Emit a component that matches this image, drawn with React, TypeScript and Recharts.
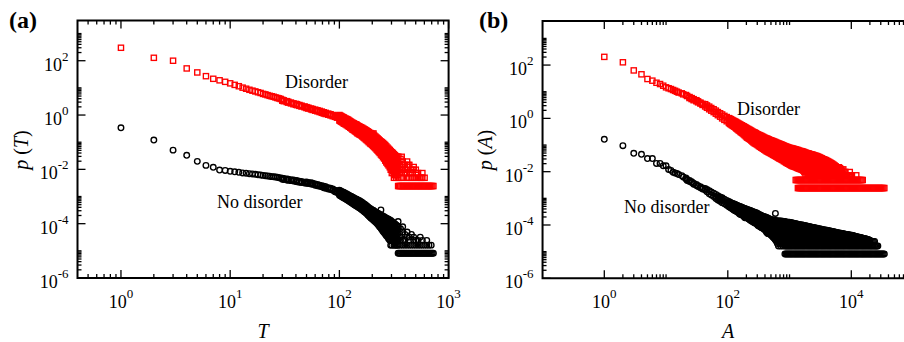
import React from "react";
import { ScatterChart, Scatter, XAxis, YAxis, ReferenceArea } from "recharts";

type Pt = { x: number; y: number };

// each row: [x, p1, p2, ...] (several p values where the cloud is thick)

// ---- panel (a): p(T) ----
const DISORDER_T: number[][] = [
  [1, 300], [2, 128], [3, 100], [4, 52], [5, 37], [6, 27], [7, 21.6], [8, 19], [9, 16.7], [10, 14.7],
  [11, 12.9], [12, 11.5], [13, 10.2], [14, 9.3], [15, 8.5], [16, 7.9], [17, 7.4], [18, 6.9], [19, 6.5], [20, 6.0],
  [21, 5.75], [22, 5.4], [23, 5.1], [24, 4.9], [25, 4.7], [26, 4.45], [27, 4.25], [28, 4.1], [29, 3.9],
  [30, 3.63, 3.38], [31, 3.47, 3.23], [33, 3.24, 3.01], [34, 3.09, 2.87], [36, 2.88, 2.68], [38, 2.69, 2.5],
  [40, 2.57, 2.39], [41, 2.48, 2.31], [43, 2.34, 2.18], [45, 2.21, 2.06], [48, 2.07, 1.93], [50, 1.95, 1.81],
  [52, 1.86, 1.73], [55, 1.74, 1.62], [57, 1.66, 1.54],
  [60, 1.58, 1.45], [63, 1.5, 1.37], [66, 1.42, 1.29], [69, 1.34, 1.21], [72, 1.26, 1.14], [75, 1.2, 1.09],
  [79, 1.13, 1.03], [83, 1.07, 0.97], [87, 1.0, 0.91], [91, 0.96, 0.86], [95, 0.9, 0.8],
  [100, 1.0, 0.79, 0.63], [104, 0.91, 0.72, 0.575], [109, 0.83, 0.65, 0.5], [114, 0.74, 0.575, 0.45],
  [120, 0.68, 0.51, 0.39], [126, 0.59, 0.45, 0.34], [132, 0.52, 0.39, 0.29], [138, 0.47, 0.35, 0.26],
  [144, 0.44, 0.35, 0.28, 0.23], [151, 0.39, 0.31, 0.25, 0.2], [158, 0.355, 0.28, 0.224, 0.178],
  [166, 0.316, 0.247, 0.194, 0.151], [174, 0.28, 0.217, 0.167, 0.129], [182, 0.25, 0.19, 0.145, 0.11],
  [191, 0.22, 0.163, 0.122, 0.091], [200, 0.2, 0.158, 0.126, 0.1, 0.079], [205, 0.21],
  [209, 0.174, 0.136, 0.107, 0.084, 0.066], [219, 0.148, 0.115, 0.089, 0.069, 0.054],
  [229, 0.126, 0.097, 0.074, 0.057, 0.044], [240, 0.107, 0.086, 0.069, 0.055, 0.044, 0.035],
  [251, 0.093, 0.073, 0.058, 0.045, 0.036, 0.028], [263, 0.078, 0.06, 0.046, 0.036, 0.028, 0.021],
  [276, 0.063, 0.05, 0.04, 0.0316, 0.025, 0.02, 0.0158], [289, 0.052, 0.041, 0.032, 0.025, 0.0196, 0.0154, 0.012],
  [302, 0.043, 0.034, 0.027, 0.0219, 0.017, 0.0146, 0.0122, 0.0097, 0.0073],
  [316, 0.036, 0.029, 0.0243, 0.0194, 0.0146, 0.0122, 0.0097, 0.0073, 0.0049],
  [331, 0.03, 0.0243, 0.0194, 0.0146, 0.0122, 0.0097, 0.0073, 0.0049],
  [347, 0.029, 0.0194, 0.0146, 0.0097, 0.0073, 0.0049],
  [363, 0.0243, 0.0122, 0.0073, 0.0049], [372, 0.029, 0.0097], [380, 0.0194, 0.0146, 0.0097, 0.0049],
  [398, 0.0146, 0.0097, 0.0073], [417, 0.0194, 0.0122, 0.0073, 0.0049], [427, 0.0146],
  [437, 0.0146, 0.0073, 0.0049], [457, 0.0097, 0.0073, 0.0049], [475, 0.0097], [479, 0.0122, 0.0049],
  [501, 0.0097, 0.0073, 0.0049], [525, 0.0073, 0.0049], [550, 0.0049], [565, 0.0049], [575, 0.0073, 0.0049],
  [603, 0.0049],
];
// in-between readings where the red cloud is solid
const DISORDER_T_DENSE: number[][] = [
  [102, 0.95, 0.84, 0.67, 0.6], [106, 0.87, 0.77, 0.61, 0.54], [111, 0.78, 0.69, 0.54, 0.48],
  [117, 0.71, 0.62, 0.48, 0.42], [123, 0.63, 0.55, 0.42, 0.37], [129, 0.55, 0.48, 0.37, 0.32],
  [135, 0.5, 0.43, 0.33, 0.28], [141, 0.455, 0.39, 0.31, 0.265, 0.245], [147, 0.41, 0.35, 0.28, 0.225, 0.21],
  [154, 0.37, 0.31, 0.25, 0.2, 0.19], [162, 0.335, 0.28, 0.22, 0.175, 0.164], [170, 0.298, 0.248, 0.19, 0.15, 0.14],
  [178, 0.265, 0.22, 0.168, 0.127, 0.119], [186, 0.235, 0.195, 0.15, 0.112, 0.1],
  [195, 0.21, 0.18, 0.14, 0.112, 0.089, 0.085], [204, 0.187, 0.157, 0.125, 0.1, 0.079, 0.072],
  [214, 0.161, 0.135, 0.105, 0.083, 0.066, 0.06], [224, 0.137, 0.114, 0.088, 0.068, 0.053, 0.049],
  [234, 0.116, 0.098, 0.079, 0.062, 0.049, 0.04], [245, 0.1, 0.083, 0.066, 0.052, 0.041, 0.032],
  [257, 0.085, 0.068, 0.054, 0.042, 0.033, 0.025], [269, 0.07, 0.056, 0.045, 0.036, 0.028, 0.022, 0.018],
  [282, 0.057, 0.046, 0.036, 0.028, 0.022, 0.0175, 0.014],
  [295, 0.047, 0.038, 0.03, 0.024, 0.019, 0.0158, 0.0122, 0.0097],
  [309, 0.04, 0.031, 0.0267, 0.0219, 0.017, 0.0134, 0.011, 0.0085],
  [323, 0.033, 0.027, 0.0219, 0.017, 0.0134, 0.011, 0.0085, 0.0061],
  [339, 0.029, 0.0219, 0.017, 0.0134, 0.011, 0.0085, 0.0061],
];

const NO_DISORDER_T: number[][] = [
  [1, 0.34], [2, 0.12], [3, 0.051], [4, 0.033], [5, 0.0197], [6, 0.014], [7, 0.0119], [8, 0.0094], [9, 0.0091], [10, 0.0085],
  [11, 0.0081], [12, 0.0078], [13, 0.0074], [14, 0.0072], [15, 0.0069], [16, 0.0068], [17, 0.0066], [18, 0.0063],
  [19, 0.0062], [20, 0.006], [21, 0.0058], [22, 0.0057], [23, 0.0056], [24, 0.0054], [25, 0.0053], [26, 0.0052],
  [27, 0.0051], [28, 0.00495], [29, 0.00485],
  [30, 0.00468, 0.0043], [31, 0.00457, 0.0042], [33, 0.00442, 0.00407], [34, 0.00432, 0.00397], [36, 0.00417, 0.00384],
  [38, 0.00403, 0.00371], [40, 0.00389, 0.00358], [41, 0.0038, 0.0035], [43, 0.00367, 0.00338], [45, 0.00355, 0.00327],
  [48, 0.00339, 0.00312],
  [50, 0.0034, 0.0031], [52, 0.0033, 0.003], [55, 0.0032, 0.0029], [57, 0.0031, 0.0028], [60, 0.0029, 0.0026],
  [63, 0.0028, 0.0025], [66, 0.0026, 0.0024], [69, 0.0025, 0.0023], [72, 0.0024, 0.0021], [75, 0.0023, 0.002],
  [79, 0.0021, 0.0019], [83, 0.002, 0.0018], [87, 0.0019, 0.0017], [91, 0.0017, 0.0015], [95, 0.0016, 0.0014],
  [100, 0.0017, 0.00138, 0.00112], [104, 0.00155, 0.00126, 0.00102], [109, 0.00145, 0.00115, 0.00091],
  [114, 0.00129, 0.00102, 0.00081], [120, 0.00117, 0.00091, 0.00071], [126, 0.00105, 0.00081, 0.00063],
  [132, 0.00095, 0.00072, 0.00055], [138, 0.00085, 0.00065, 0.00049],
  [144, 7.9e-4, 6.5e-4, 5.3e-4, 4.4e-4], [151, 7.1e-4, 5.8e-4, 4.8e-4, 3.9e-4], [158, 6.5e-4, 5.2e-4, 4.2e-4, 3.4e-4],
  [166, 5.5e-4, 4.4e-4, 3.6e-4, 2.9e-4], [174, 4.9e-4, 3.9e-4, 3.1e-4, 2.5e-4], [182, 4.2e-4, 3.3e-4, 2.6e-4, 2.1e-4],
  [191, 3.6e-4, 2.8e-4, 2.2e-4, 1.74e-4], [200, 3.2e-4, 2.7e-4, 2.2e-4, 1.8e-4, 1.48e-4],
  [209, 2.9e-4, 2.3e-4, 1.9e-4, 1.55e-4, 1.26e-4], [219, 2.6e-4, 2.1e-4, 1.66e-4, 1.32e-4, 1.05e-4],
  [229, 2.34e-4, 1.82e-4, 1.41e-4, 1.1e-4, 8.5e-5], [240, 3.2e-4, 2.1e-4, 1.7e-4, 1.35e-4, 1.07e-4, 8.5e-5, 6.8e-5],
  [251, 1.9e-4, 1.47e-4, 1.14e-4, 8.8e-5, 6.8e-5, 5.2e-5], [263, 1.7e-4, 1.34e-4, 1.05e-4, 8.3e-5, 6.6e-5, 5.2e-5, 4.1e-5],
  [276, 1.51e-4, 1.17e-4, 9e-5, 6.9e-5, 5.3e-5, 4.1e-5, 3.2e-5], [289, 1.38e-4, 1.05e-4, 8e-5, 6.1e-5, 4.6e-5, 3.2e-5, 2.43e-5],
  [302, 1.2e-4, 8.9e-5, 6.5e-5, 4.9e-5, 4e-5, 3.2e-5, 2.43e-5, 1.62e-5],
  [316, 1.05e-4, 7.3e-5, 5.7e-5, 4e-5, 3.2e-5, 2.43e-5, 1.62e-5],
  [331, 9e-5, 6.5e-5, 4.9e-5, 3.2e-5, 2.43e-5, 1.62e-5], [345, 1.2e-4],
  [347, 7.3e-5, 4.9e-5, 3.2e-5, 2.43e-5, 1.62e-5], [363, 6.5e-5, 3.2e-5, 2.43e-5, 1.62e-5],
  [380, 7.7e-5, 4.9e-5, 2.43e-5, 1.62e-5], [398, 4e-5, 2.43e-5, 1.62e-5], [417, 4.9e-5, 3.2e-5, 1.62e-5],
  [437, 3.2e-5, 2.43e-5, 1.62e-5], [457, 4e-5, 1.62e-5], [479, 3.2e-5, 2.43e-5, 1.62e-5], [501, 2.43e-5, 1.62e-5],
  [525, 2.43e-5, 1.62e-5], [550, 3.2e-5, 1.62e-5], [575, 2.43e-5, 1.62e-5], [603, 1.62e-5], [631, 2.43e-5, 1.62e-5],
  [661, 1.62e-5], [693, 1.62e-5],
];
const NO_DISORDER_T_DENSE: number[][] = [
  [102, 0.00162, 0.00145, 0.00118, 0.00106], [106, 0.0015, 0.00133, 0.00108, 0.00096],
  [111, 0.00137, 0.0012, 0.00096, 0.00086], [117, 0.00123, 0.00107, 0.00085, 0.00076],
  [123, 0.0011, 0.00096, 0.00076, 0.00067], [129, 0.001, 0.00086, 0.00067, 0.00059],
  [135, 9e-4, 7.7e-4, 6e-4, 5.2e-4], [141, 8.2e-4, 7e-4, 5.7e-4, 4.7e-4], [147, 7.5e-4, 6.2e-4, 5e-4, 4.2e-4],
  [154, 6.8e-4, 5.5e-4, 4.5e-4, 3.7e-4], [162, 6e-4, 4.8e-4, 3.9e-4, 3.2e-4], [170, 5.2e-4, 4.2e-4, 3.3e-4, 2.7e-4],
  [178, 4.5e-4, 3.6e-4, 2.8e-4, 2.3e-4], [186, 3.9e-4, 3.1e-4, 2.4e-4, 1.9e-4],
  [195, 3.4e-4, 2.9e-4, 2.3e-4, 1.9e-4, 1.6e-4], [204, 3.1e-4, 2.5e-4, 2e-4, 1.65e-4, 1.37e-4],
  [214, 2.7e-4, 2.2e-4, 1.78e-4, 1.43e-4, 1.15e-4], [224, 2.45e-4, 1.9e-4, 1.53e-4, 1.2e-4, 9.5e-5],
  [234, 2.2e-4, 1.75e-4, 1.4e-4, 1.12e-4, 9e-5, 7.6e-5], [245, 2e-4, 1.58e-4, 1.24e-4, 9.7e-5, 7.6e-5, 6e-5],
  [257, 1.8e-4, 1.4e-4, 1.1e-4, 8.5e-5, 6.7e-5, 5.9e-5, 4.6e-5],
  [269, 1.6e-4, 1.25e-4, 9.7e-5, 7.6e-5, 5.9e-5, 4.6e-5, 3.6e-5],
  [282, 1.45e-4, 1.1e-4, 8.5e-5, 6.5e-5, 5e-5, 3.7e-5, 2.8e-5],
  [295, 1.3e-4, 9.7e-5, 7.2e-5, 5.5e-5, 4.3e-5, 3.2e-5, 2.4e-5, 1.62e-5],
  [309, 1.1e-4, 8e-5, 6e-5, 4.5e-5, 3.6e-5, 2.8e-5, 2.43e-5],
  [323, 9.7e-5, 6.9e-5, 5.3e-5, 4e-5, 2.8e-5, 2.43e-5, 1.62e-5],
  [339, 8.2e-5, 5.7e-5, 4e-5, 2.8e-5, 2.43e-5, 1.62e-5],
];

// single-count level of both curves, and the T values it spans
const FLOOR_T = [345, 353, 361, 370, 378, 387, 396, 406, 415, 425, 435, 445, 456, 466, 477, 489, 500, 512, 524,
  536, 549, 562, 575, 589, 602, 617, 631, 646, 661, 677, 693, 709, 726];
const DISORDER_T_FLOOR = 0.00243;
const NO_DISORDER_T_FLOOR = 8.1e-6;

// ---- panel (b): p(A) ----
const DISORDER_A: number[][] = [
  [1, 203], [2, 127], [3, 63], [4, 45], [5, 30], [6, 26], [7, 21.7], [8, 19.4], [9, 16.8], [10, 14.6],
  [11, 13.5], [12, 12.6], [13, 11.6], [14, 10.8], [15, 10], [16, 9.3], [18, 8.7], [19, 8.0], [21, 7.5], [22, 6.9],
  [24, 6.3, 5.8], [26, 5.75, 5.3], [28, 5.25, 4.8], [31, 4.8, 4.4], [33, 4.35, 4.0], [36, 3.9, 3.6], [39, 3.5, 3.2],
  [43, 3.4, 2.8], [46, 3.05, 2.5], [50, 2.75, 2.2], [54, 2.45, 1.95], [59, 2.2, 1.72], [64, 1.95, 1.5],
  [69, 1.72, 1.32], [75, 1.55, 1.16], [81, 1.4, 1.0], [88, 1.24, 0.88], [96, 1.12, 0.78],
  [104, 1.02, 0.83, 0.68], [112, 0.93, 0.74, 0.59], [122, 0.83, 0.66, 0.52], [132, 0.76, 0.59, 0.46],
  [143, 0.68, 0.51, 0.39], [155, 0.61, 0.45, 0.34],
  [168, 0.55, 0.44, 0.35, 0.29], [182, 0.5, 0.39, 0.31, 0.25], [197, 0.45, 0.35, 0.27, 0.21],
  [214, 0.4, 0.31, 0.24, 0.18], [232, 0.36, 0.275, 0.21, 0.16], [251, 0.32, 0.24, 0.18, 0.135],
  [272, 0.295, 0.234, 0.186, 0.148, 0.117], [295, 0.263, 0.209, 0.166, 0.132, 0.105],
  [320, 0.24, 0.188, 0.148, 0.116, 0.091], [347, 0.221, 0.172, 0.133, 0.104, 0.08],
  [376, 0.2, 0.155, 0.12, 0.093, 0.072], [407, 0.182, 0.14, 0.107, 0.082, 0.063],
  [442, 0.17, 0.136, 0.109, 0.0875, 0.07, 0.056], [479, 0.155, 0.124, 0.1, 0.08, 0.064, 0.051],
  [519, 0.145, 0.115, 0.091, 0.072, 0.058, 0.046], [562, 0.135, 0.106, 0.084, 0.066, 0.052, 0.041],
  [610, 0.124, 0.0975, 0.076, 0.06, 0.047, 0.037],
  [661, 0.115, 0.093, 0.076, 0.062, 0.05, 0.041, 0.033], [716, 0.107, 0.086, 0.07, 0.056, 0.045, 0.037, 0.03],
  [776, 0.099, 0.079, 0.064, 0.051, 0.041, 0.033, 0.027], [841, 0.091, 0.073, 0.058, 0.047, 0.037, 0.03, 0.024],
  [912, 0.085, 0.068, 0.054, 0.043, 0.034, 0.027, 0.021], [989, 0.079, 0.063, 0.049, 0.039, 0.031, 0.024, 0.019],
  [1072, 0.076, 0.061, 0.05, 0.04, 0.033, 0.026, 0.021, 0.017],
  [1161, 0.072, 0.058, 0.047, 0.038, 0.03, 0.0245, 0.0197, 0.0158],
  [1259, 0.068, 0.054, 0.044, 0.035, 0.028, 0.023, 0.018, 0.0148, 0.00486],
  [1365, 0.065, 0.052, 0.041, 0.033, 0.026, 0.021, 0.017, 0.0135, 0.00486, 0.00243],
  [1479, 0.06, 0.048, 0.0385, 0.031, 0.0246, 0.0197, 0.0157, 0.0126, 0.00486, 0.00243],
  [1603, 0.058, 0.046, 0.037, 0.029, 0.0235, 0.0186, 0.0148, 0.0117, 0.00486, 0.00243],
  [1738, 0.054, 0.043, 0.034, 0.027, 0.022, 0.0175, 0.014, 0.0122, 0.0097, 0.00486, 0.00243],
  [1884, 0.05, 0.04, 0.032, 0.025, 0.02, 0.016, 0.0125, 0.0097, 0.00486, 0.00243],
  [2042, 0.048, 0.038, 0.03, 0.024, 0.019, 0.015, 0.012, 0.0097, 0.0073, 0.00486, 0.00243],
  [2213, 0.045, 0.036, 0.029, 0.023, 0.018, 0.0146, 0.0122, 0.0097, 0.0073, 0.00486, 0.00243],
  [2399, 0.043, 0.034, 0.027, 0.022, 0.017, 0.0146, 0.0122, 0.0097, 0.0073, 0.00486, 0.00243],
  [2600, 0.04, 0.032, 0.026, 0.021, 0.017, 0.0146, 0.0122, 0.0097, 0.0073, 0.00486, 0.00243],
  [2818, 0.038, 0.03, 0.024, 0.0195, 0.017, 0.0146, 0.0122, 0.0097, 0.0073, 0.00486, 0.00243],
  [3055, 0.035, 0.028, 0.0243, 0.0194, 0.017, 0.0146, 0.0122, 0.0097, 0.0073, 0.00486, 0.00243],
  [3311, 0.032, 0.026, 0.0219, 0.0194, 0.017, 0.0146, 0.0122, 0.0097, 0.0073, 0.00486, 0.00243],
  [3589, 0.029, 0.0243, 0.0194, 0.017, 0.0146, 0.0122, 0.0097, 0.0073, 0.00486, 0.00243],
  [3890, 0.027, 0.0219, 0.0194, 0.0146, 0.0122, 0.0097, 0.0073, 0.00486, 0.00243],
  [4217, 0.0243, 0.0194, 0.017, 0.0146, 0.0122, 0.0097, 0.0073, 0.00486, 0.00243],
  [4571, 0.0219, 0.017, 0.0146, 0.0122, 0.0097, 0.0073, 0.00486, 0.00243],
  [4955, 0.0194, 0.0146, 0.0122, 0.0097, 0.0073, 0.00486, 0.00243],
  [5370, 0.017, 0.0146, 0.0122, 0.0097, 0.0073, 0.00486, 0.00243],
  [5821, 0.0146, 0.0122, 0.0097, 0.0073, 0.00486, 0.00243],
  [6310, 0.0146, 0.0097, 0.0073, 0.00486, 0.00243], [6839, 0.0122, 0.0097, 0.0073, 0.00486, 0.00243],
  [7413, 0.0122, 0.0073, 0.00486, 0.00243], [8035, 0.0097, 0.0073, 0.00486, 0.00243],
  [8710, 0.0073, 0.00486, 0.00243], [9441, 0.0097, 0.0073, 0.00486, 0.00243], [10233, 0.0073, 0.00486, 0.00243],
  [11092, 0.00486, 0.00243], [12023, 0.0073, 0.00486, 0.00243], [13032, 0.00486, 0.00243],
  [14125, 0.00486, 0.00243], [15311, 0.00486, 0.00243],
  [16596, 0.00243], [17989, 0.00243], [19498, 0.00243], [21135, 0.00243], [22909, 0.00243], [24831, 0.00243],
  [26915, 0.00243], [29174, 0.00243], [31623, 0.00243], [34277, 0.00243],
];
const DISORDER_A_DENSE: number[][] = [
  [108, 0.97, 0.87, 0.7, 0.63], [117, 0.88, 0.78, 0.62, 0.55], [127, 0.79, 0.7, 0.55, 0.49],
  [137, 0.72, 0.62, 0.48, 0.42], [149, 0.64, 0.55, 0.43, 0.36], [161, 0.58, 0.5, 0.39, 0.31],
  [175, 0.52, 0.45, 0.36, 0.3, 0.27], [189, 0.47, 0.4, 0.32, 0.26, 0.23], [205, 0.42, 0.36, 0.28, 0.22, 0.19],
  [223, 0.38, 0.32, 0.25, 0.19, 0.17], [241, 0.34, 0.28, 0.22, 0.17, 0.147], [261, 0.305, 0.26, 0.2, 0.16, 0.125],
  [283, 0.28, 0.235, 0.185, 0.148, 0.111], [307, 0.25, 0.21, 0.166, 0.131, 0.098],
  [333, 0.23, 0.19, 0.15, 0.117, 0.086], [361, 0.21, 0.172, 0.136, 0.105, 0.076],
  [391, 0.19, 0.156, 0.121, 0.094, 0.067], [424, 0.176, 0.148, 0.117, 0.092, 0.073, 0.059],
  [460, 0.162, 0.137, 0.11, 0.087, 0.069, 0.053], [499, 0.15, 0.126, 0.1, 0.08, 0.063, 0.048],
  [540, 0.14, 0.116, 0.092, 0.073, 0.058, 0.043], [586, 0.13, 0.107, 0.084, 0.066, 0.052, 0.039],
  [635, 0.119, 0.1, 0.082, 0.066, 0.053, 0.044, 0.035], [688, 0.111, 0.094, 0.077, 0.062, 0.05, 0.041, 0.031],
  [746, 0.103, 0.087, 0.071, 0.057, 0.046, 0.036, 0.028], [808, 0.095, 0.08, 0.065, 0.052, 0.042, 0.033, 0.025],
  [876, 0.088, 0.074, 0.06, 0.048, 0.038, 0.03, 0.022], [950, 0.082, 0.069, 0.055, 0.044, 0.035, 0.027, 0.02],
  [1030, 0.077, 0.066, 0.053, 0.043, 0.034, 0.027, 0.022, 0.018],
  [1116, 0.074, 0.063, 0.051, 0.041, 0.033, 0.027, 0.022, 0.0175, 0.0163],
  [1210, 0.07, 0.06, 0.049, 0.039, 0.032, 0.026, 0.0215, 0.0165, 0.0153],
  [1311, 0.066, 0.057, 0.046, 0.037, 0.03, 0.024, 0.019, 0.0155, 0.0141, 0.00486],
  [1421, 0.062, 0.053, 0.043, 0.035, 0.028, 0.022, 0.0177, 0.0145, 0.013, 0.00486, 0.00243],
  [1540, 0.059, 0.05, 0.041, 0.033, 0.026, 0.021, 0.0166, 0.0134, 0.0122, 0.00486, 0.00243],
  [1669, 0.056, 0.047, 0.038, 0.031, 0.025, 0.0207, 0.0158, 0.0134, 0.011, 0.00486, 0.00243],
  [1809, 0.052, 0.044, 0.036, 0.029, 0.0233, 0.0182, 0.0146, 0.011, 0.0085, 0.00486, 0.00243],
  [1961, 0.049, 0.042, 0.034, 0.027, 0.0219, 0.017, 0.0134, 0.011, 0.0085, 0.00486, 0.00243],
  [2126, 0.046, 0.04, 0.032, 0.026, 0.0207, 0.0158, 0.0134, 0.011, 0.0085, 0.00486, 0.00243],
  [2304, 0.044, 0.037, 0.03, 0.0245, 0.0195, 0.0158, 0.0134, 0.011, 0.0085, 0.00486, 0.00243],
  [2498, 0.041, 0.035, 0.028, 0.0231, 0.0182, 0.0158, 0.0134, 0.011, 0.0085, 0.00486, 0.00243],
  [2707, 0.039, 0.033, 0.027, 0.0219, 0.0182, 0.0158, 0.0134, 0.011, 0.0085, 0.00486, 0.00243],
  [2934, 0.036, 0.031, 0.0255, 0.0207, 0.0182, 0.0158, 0.0134, 0.011, 0.0085, 0.00486, 0.00243],
  [3180, 0.033, 0.029, 0.0243, 0.0207, 0.0182, 0.0158, 0.0134, 0.011, 0.0085, 0.00486, 0.00243],
  [3447, 0.03, 0.0267, 0.0219, 0.0182, 0.0158, 0.0134, 0.011, 0.0085, 0.00486, 0.00243],
  [3736, 0.028, 0.0231, 0.0207, 0.0158, 0.0134, 0.011, 0.0085, 0.00486, 0.00243],
  [4050, 0.0255, 0.0219, 0.0182, 0.0158, 0.0134, 0.011, 0.0085, 0.00486, 0.00243],
  [4390, 0.023, 0.0195, 0.0158, 0.0134, 0.011, 0.0085, 0.00486, 0.00243],
  [4759, 0.0207, 0.0158, 0.0134, 0.011, 0.0085, 0.00486, 0.00243],
  [5158, 0.0182, 0.0158, 0.0134, 0.011, 0.0085, 0.00486, 0.00243],
  [5591, 0.0158, 0.0134, 0.011, 0.0085, 0.00486, 0.00243], [6061, 0.0146, 0.011, 0.0085, 0.00486, 0.00243],
  [6569, 0.0134, 0.011, 0.0085, 0.00486, 0.00243], [7120, 0.011, 0.0085, 0.00486, 0.00243],
  [7718, 0.0097, 0.0073, 0.00486, 0.00243], [8365, 0.0073, 0.00486, 0.00243], [9067, 0.0073, 0.00486, 0.00243],
  [9828, 0.0073, 0.00486, 0.00243], [10653, 0.00486, 0.00243], [11547, 0.00486, 0.00243],
  [12516, 0.00486, 0.00243], [13567, 0.00486, 0.00243], [14705, 0.00486, 0.00243], [15940, 0.00243],
  [17278, 0.00243], [18728, 0.00243], [20300, 0.00243], [22003, 0.00243], [23850, 0.00243], [25851, 0.00243],
  [28021, 0.00243], [30373, 0.00243], [32922, 0.00243],
];

const NO_DISORDER_A: number[][] = [
  [1, 0.164], [2, 0.094], [3, 0.049], [4, 0.045], [5, 0.031], [6, 0.031], [7, 0.0204], [8, 0.0204], [9, 0.0166],
  [10, 0.0166], [11, 0.012], [12, 0.0112], [13, 0.0095], [14, 0.009],
  [15, 0.0085], [16, 0.0078], [18, 0.0071], [19, 0.0063], [21, 0.0058, 0.0053], [22, 0.0051, 0.0047],
  [24, 0.0047, 0.0043], [26, 0.0042, 0.0039], [28, 0.0037, 0.0034], [31, 0.0033, 0.003], [33, 0.003, 0.00276],
  [36, 0.0027, 0.00248], [39, 0.00245, 0.00225],
  [43, 0.00234, 0.00204], [46, 0.00214, 0.00178], [50, 0.00195, 0.00148], [54, 0.00174, 0.00132], [59, 0.00155, 0.00117],
  [64, 0.00141, 0.00117, 0.00098], [69, 0.00126, 0.00105, 0.00087], [75, 0.00112, 0.00093, 0.00078],
  [81, 0.00105, 0.00085, 0.00069], [88, 0.00093, 0.00076, 0.00062], [96, 0.00083, 0.00068, 0.00055],
  [104, 0.00076, 0.0006, 0.00048], [112, 0.00069, 0.00055, 0.00044], [122, 0.00063, 0.00049, 0.00038],
  [132, 5.9e-4, 4.9e-4, 4.1e-4, 3.4e-4], [143, 5.4e-4, 4.5e-4, 3.7e-4, 3.1e-4], [155, 5e-4, 4e-4, 3.3e-4, 2.6e-4],
  [168, 4.6e-4, 3.7e-4, 3e-4, 2.4e-4], [182, 4.3e-4, 3.4e-4, 2.7e-4, 2.1e-4], [197, 4e-4, 3.2e-4, 2.5e-4, 2e-4],
  [214, 3.7e-4, 3.1e-4, 2.5e-4, 2.1e-4, 1.7e-4], [232, 3.5e-4, 2.8e-4, 2.3e-4, 1.9e-4, 1.5e-4],
  [251, 3.2e-4, 2.6e-4, 2.1e-4, 1.7e-4, 1.35e-4], [272, 3e-4, 2.4e-4, 1.9e-4, 1.5e-4, 1.2e-4],
  [295, 2.8e-4, 2.2e-4, 1.74e-4, 1.38e-4, 1.1e-4],
  [320, 2.5e-4, 2.05e-4, 1.67e-4, 1.37e-4, 1.12e-4, 9.1e-5], [347, 2.3e-4, 1.86e-4, 1.51e-4, 1.23e-4, 1e-4, 8.1e-5],
  [376, 2.1e-4, 1.7e-4, 1.38e-4, 1.12e-4, 9.1e-5, 7.4e-5], [407, 2e-4, 1.58e-4, 1.26e-4, 1e-4, 7.9e-5, 6.3e-5],
  [442, 1.82e-4, 1.45e-4, 1.15e-4, 9.1e-5, 7.2e-5, 5.8e-5, 4.8e-5],
  [479, 1.66e-4, 1.34e-4, 1.08e-4, 8.7e-5, 7e-5, 5.7e-5, 4.6e-5],
  [519, 1.55e-4, 1.23e-4, 9.8e-5, 7.8e-5, 6.2e-5, 4.9e-5, 3.9e-5],
  [562, 1.51e-4, 1.17e-4, 9e-5, 6.9e-5, 5.3e-5, 4.1e-5, 3.2e-5], [590, 2.7e-4],
  [610, 1.45e-4, 1.12e-4, 8.7e-5, 6.8e-5, 5.2e-5, 4.1e-5, 3.2e-5, 2.43e-5],
  [661, 1.41e-4, 1.1e-4, 8.7e-5, 6.9e-5, 5.5e-5, 4.3e-5, 3.4e-5, 2.43e-5, 1.62e-5],
  [716, 1.4e-4, 1.1e-4, 8.7e-5, 6.9e-5, 5.5e-5, 4.3e-5, 3.4e-5, 2.43e-5, 1.62e-5],
  [776, 1.38e-4, 1.1e-4, 8.7e-5, 6.9e-5, 5.5e-5, 4.3e-5, 3.4e-5, 2.43e-5, 1.62e-5],
  [841, 1.35e-4, 1.1e-4, 8.7e-5, 6.9e-5, 5.5e-5, 4.3e-5, 3.4e-5, 2.43e-5, 1.62e-5, 8.1e-6],
  [912, 1.26e-4, 1e-4, 7.9e-5, 6.3e-5, 5e-5, 4e-5, 3.2e-5, 2.43e-5, 1.62e-5, 8.1e-6],
  [989, 1.26e-4, 1e-4, 7.9e-5, 6.3e-5, 5e-5, 4e-5, 3.2e-5, 2.43e-5, 1.62e-5, 8.1e-6],
  [1072, 1.22e-4, 1e-4, 7.9e-5, 6.3e-5, 5e-5, 4e-5, 3.2e-5, 2.43e-5, 1.62e-5, 8.1e-6],
  [1161, 1.17e-4, 1e-4, 7.9e-5, 6.3e-5, 5e-5, 4e-5, 3.2e-5, 2.43e-5, 1.62e-5, 8.1e-6],
  [1259, 1.12e-4, 9e-5, 7.9e-5, 6.3e-5, 5e-5, 4e-5, 3.2e-5, 2.43e-5, 1.62e-5, 8.1e-6],
  [1365, 1.07e-4, 8.8e-5, 7.2e-5, 6.3e-5, 5e-5, 4e-5, 3.2e-5, 2.43e-5, 1.62e-5, 8.1e-6],
  [1479, 1.03e-4, 8.5e-5, 7.2e-5, 5.8e-5, 5e-5, 4e-5, 3.2e-5, 2.43e-5, 1.62e-5, 8.1e-6],
  [1603, 1e-4, 7.9e-5, 6.3e-5, 5e-5, 4e-5, 3.2e-5, 2.43e-5, 1.62e-5, 8.1e-6],
  [1738, 9.5e-5, 7.9e-5, 6.3e-5, 5e-5, 4e-5, 3.2e-5, 2.43e-5, 1.62e-5, 8.1e-6],
  [1884, 9.1e-5, 7.9e-5, 6.3e-5, 5e-5, 4e-5, 3.2e-5, 2.43e-5, 1.62e-5, 8.1e-6],
  [2042, 8.8e-5, 7.3e-5, 6.3e-5, 5e-5, 4e-5, 3.2e-5, 2.43e-5, 1.62e-5, 8.1e-6],
  [2213, 8.5e-5, 7e-5, 5.7e-5, 4.9e-5, 4e-5, 3.2e-5, 2.43e-5, 1.62e-5, 8.1e-6],
  [2399, 8.1e-5, 6.5e-5, 5.7e-5, 4.9e-5, 4e-5, 3.2e-5, 2.43e-5, 1.62e-5, 8.1e-6],
  [2600, 7.8e-5, 6.3e-5, 5e-5, 4e-5, 3.2e-5, 2.43e-5, 1.62e-5, 8.1e-6],
  [2818, 7.5e-5, 6.3e-5, 5e-5, 4e-5, 3.2e-5, 2.43e-5, 1.62e-5, 8.1e-6],
  [3055, 7.2e-5, 6.3e-5, 5e-5, 4e-5, 3.2e-5, 2.43e-5, 1.62e-5, 8.1e-6],
  [3311, 6.9e-5, 5.7e-5, 4.9e-5, 4e-5, 3.2e-5, 2.43e-5, 1.62e-5, 8.1e-6],
  [3589, 6.6e-5, 5.2e-5, 4.4e-5, 3.6e-5, 2.9e-5, 2.43e-5, 1.62e-5, 8.1e-6],
  [3890, 6.4e-5, 5e-5, 4e-5, 3.2e-5, 2.43e-5, 1.62e-5, 8.1e-6],
  [4217, 6.2e-5, 5e-5, 4e-5, 3.2e-5, 2.43e-5, 1.62e-5, 8.1e-6],
  [4571, 5.9e-5, 4.9e-5, 4e-5, 3.2e-5, 2.43e-5, 1.62e-5, 8.1e-6],
  [4955, 5.7e-5, 4.9e-5, 4e-5, 3.2e-5, 2.43e-5, 1.62e-5, 8.1e-6],
  [5370, 5.5e-5, 4.5e-5, 3.6e-5, 2.9e-5, 2.43e-5, 1.62e-5, 8.1e-6],
  [5821, 5.2e-5, 4e-5, 3.2e-5, 2.43e-5, 1.62e-5, 8.1e-6],
  [6310, 5e-5, 4e-5, 3.2e-5, 2.43e-5, 1.62e-5, 8.1e-6],
  [6839, 4.9e-5, 4e-5, 3.2e-5, 2.43e-5, 1.62e-5, 8.1e-6],
  [7413, 4.7e-5, 3.9e-5, 3.2e-5, 2.43e-5, 1.62e-5, 8.1e-6],
  [8035, 4.5e-5, 3.6e-5, 2.9e-5, 2.43e-5, 1.62e-5, 8.1e-6],
  [8710, 4.4e-5, 3.6e-5, 2.9e-5, 2.43e-5, 1.62e-5, 8.1e-6],
  [9441, 4.2e-5, 3.2e-5, 2.43e-5, 1.62e-5, 8.1e-6],
  [10233, 4.1e-5, 3.2e-5, 2.43e-5, 1.62e-5, 8.1e-6],
  [11092, 3.9e-5, 3.2e-5, 2.43e-5, 1.62e-5, 8.1e-6],
  [12023, 3.7e-5, 3.2e-5, 2.43e-5, 1.62e-5, 8.1e-6],
  [13032, 3.5e-5, 2.8e-5, 2.43e-5, 1.62e-5, 8.1e-6],
  [14125, 3.4e-5, 2.8e-5, 2.43e-5, 1.62e-5, 8.1e-6],
  [15311, 3.2e-5, 2.43e-5, 1.62e-5, 8.1e-6], [16596, 3.1e-5, 2.43e-5, 1.62e-5, 8.1e-6],
  [17989, 2.95e-5, 2.43e-5, 1.62e-5, 8.1e-6], [19498, 2.75e-5, 2.43e-5, 1.62e-5, 8.1e-6],
  [21135, 2.43e-5, 1.62e-5, 8.1e-6], [22909, 2.43e-5, 1.62e-5, 8.1e-6], [24831, 1.62e-5, 8.1e-6],
  [26915, 1.62e-5, 8.1e-6], [29174, 8.1e-6], [31623, 8.1e-6], [34277, 8.1e-6],
];
const NO_DISORDER_A_DENSE: number[][] = [
  [108, 7.2e-4, 6.4e-4, 5.1e-4, 4.6e-4], [117, 6.6e-4, 5.8e-4, 4.6e-4, 4.1e-4], [127, 6.1e-4, 5.3e-4, 4.4e-4, 3.6e-4],
  [137, 5.6e-4, 4.7e-4, 3.9e-4, 3.25e-4], [149, 5.2e-4, 4.3e-4, 3.5e-4, 2.85e-4], [161, 4.8e-4, 3.9e-4, 3.15e-4, 2.5e-4],
  [175, 4.45e-4, 3.55e-4, 2.85e-4, 2.25e-4], [189, 4.15e-4, 3.3e-4, 2.6e-4, 2.05e-4, 1.85e-4],
  [205, 3.85e-4, 3.1e-4, 2.5e-4, 2.05e-4, 1.85e-4], [223, 3.6e-4, 2.95e-4, 2.4e-4, 2e-4, 1.6e-4],
  [241, 3.35e-4, 2.7e-4, 2.2e-4, 1.8e-4, 1.42e-4], [261, 3.1e-4, 2.5e-4, 2e-4, 1.6e-4, 1.27e-4],
  [283, 2.9e-4, 2.3e-4, 1.82e-4, 1.44e-4, 1.15e-4], [307, 2.65e-4, 2.1e-4, 1.7e-4, 1.37e-4, 1.1e-4, 9.5e-5],
  [333, 2.4e-4, 1.95e-4, 1.59e-4, 1.3e-4, 1.06e-4, 8.6e-5], [361, 2.2e-4, 1.78e-4, 1.44e-4, 1.17e-4, 9.5e-5, 7.7e-5],
  [391, 2.05e-4, 1.64e-4, 1.32e-4, 1.06e-4, 8.5e-5, 6.8e-5],
  [424, 1.9e-4, 1.52e-4, 1.2e-4, 9.5e-5, 7.5e-5, 6e-5, 5.3e-5],
  [460, 1.74e-4, 1.39e-4, 1.11e-4, 8.9e-5, 7.1e-5, 5.7e-5, 4.7e-5],
  [499, 1.6e-4, 1.28e-4, 1.03e-4, 8.2e-5, 6.6e-5, 5.3e-5, 4.2e-5],
  [540, 1.53e-4, 1.2e-4, 9.4e-5, 7.3e-5, 5.7e-5, 4.5e-5, 3.5e-5],
  [586, 1.48e-4, 1.15e-4, 8.9e-5, 7.1e-5, 5.6e-5, 4.4e-5, 3.6e-5, 2.8e-5],
  [635, 1.43e-4, 1.1e-4, 8.9e-5, 7.1e-5, 5.6e-5, 4.4e-5, 3.6e-5, 2.8e-5, 2e-5],
  [688, 1.4e-4, 1.1e-4, 8.9e-5, 7.1e-5, 5.6e-5, 4.4e-5, 3.6e-5, 2.8e-5, 2e-5],
  [746, 1.39e-4, 1.1e-4, 8.9e-5, 7.1e-5, 5.6e-5, 4.4e-5, 3.6e-5, 2.8e-5, 2e-5],
  [808, 1.36e-4, 1.1e-4, 8.9e-5, 7.1e-5, 5.6e-5, 4.4e-5, 3.6e-5, 2.8e-5, 2e-5],
  [876, 1.3e-4, 1e-4, 7.9e-5, 6.1e-5, 4.8e-5, 3.8e-5, 2.9e-5, 2.1e-5, 1.62e-5, 8.1e-6],
  [950, 1.26e-4, 8.9e-5, 7.1e-5, 5.6e-5, 4.5e-5, 3.6e-5, 2.8e-5, 2.1e-5, 1.62e-5, 8.1e-6],
  [1030, 1.24e-4, 8.9e-5, 7.1e-5, 5.6e-5, 4.5e-5, 3.6e-5, 2.8e-5, 2.1e-5, 1.62e-5, 8.1e-6],
  [1116, 1.2e-4, 8.9e-5, 7.1e-5, 5.6e-5, 4.5e-5, 3.6e-5, 2.8e-5, 2.1e-5, 1.62e-5, 8.1e-6],
  [1210, 1.14e-4, 8.9e-5, 7.1e-5, 5.6e-5, 4.5e-5, 3.6e-5, 2.8e-5, 2.1e-5, 1.62e-5, 8.1e-6],
  [1311, 1.1e-4, 8.9e-5, 7.1e-5, 5.6e-5, 4.5e-5, 3.6e-5, 2.8e-5, 2.1e-5, 1.62e-5, 8.1e-6],
  [1421, 1.05e-4, 8.9e-5, 7.1e-5, 5.6e-5, 4.5e-5, 3.6e-5, 2.8e-5, 2.1e-5, 1.62e-5, 8.1e-6],
  [1540, 1.01e-4, 8.9e-5, 7.1e-5, 5.6e-5, 4.5e-5, 3.6e-5, 2.8e-5, 2.1e-5, 1.62e-5, 8.1e-6],
  [1669, 9.7e-5, 7.1e-5, 5.6e-5, 4.5e-5, 3.6e-5, 2.8e-5, 2.1e-5, 1.62e-5, 8.1e-6],
  [1809, 9.3e-5, 7.1e-5, 5.6e-5, 4.5e-5, 3.6e-5, 2.8e-5, 2.1e-5, 1.62e-5, 8.1e-6],
  [1961, 9e-5, 7.1e-5, 5.6e-5, 4.5e-5, 3.6e-5, 2.8e-5, 2.1e-5, 1.62e-5, 8.1e-6],
  [2126, 8.6e-5, 7.1e-5, 5.6e-5, 4.5e-5, 3.6e-5, 2.8e-5, 2.1e-5, 1.62e-5, 8.1e-6],
  [2304, 8.3e-5, 7.1e-5, 5.6e-5, 4.5e-5, 3.6e-5, 2.8e-5, 2.1e-5, 1.62e-5, 8.1e-6],
  [2498, 8e-5, 6.5e-5, 5.6e-5, 4.5e-5, 3.6e-5, 2.8e-5, 2.1e-5, 1.62e-5, 8.1e-6],
  [2707, 7.6e-5, 6.5e-5, 5.6e-5, 4.5e-5, 3.6e-5, 2.8e-5, 2.1e-5, 1.62e-5, 8.1e-6],
  [2934, 7.3e-5, 5.6e-5, 4.5e-5, 3.6e-5, 2.8e-5, 2.1e-5, 1.62e-5, 8.1e-6],
  [3180, 7e-5, 5.6e-5, 4.5e-5, 3.6e-5, 2.8e-5, 2.1e-5, 1.62e-5, 8.1e-6],
  [3447, 6.7e-5, 5.6e-5, 4.5e-5, 3.6e-5, 2.8e-5, 2.1e-5, 1.62e-5, 8.1e-6],
  [3736, 6.5e-5, 5.6e-5, 4.5e-5, 3.6e-5, 2.8e-5, 2.1e-5, 1.62e-5, 8.1e-6],
  [4050, 6.3e-5, 5.2e-5, 4.5e-5, 3.6e-5, 2.8e-5, 2.1e-5, 1.62e-5, 8.1e-6],
  [4390, 6e-5, 5.2e-5, 4.5e-5, 3.6e-5, 2.8e-5, 2.1e-5, 1.62e-5, 8.1e-6],
  [4759, 5.8e-5, 4.5e-5, 3.6e-5, 2.8e-5, 2.1e-5, 1.62e-5, 8.1e-6],
  [5158, 5.6e-5, 4.5e-5, 3.6e-5, 2.8e-5, 2.1e-5, 1.62e-5, 8.1e-6],
  [5591, 5.3e-5, 4.5e-5, 3.6e-5, 2.8e-5, 2.1e-5, 1.62e-5, 8.1e-6],
  [6061, 5.1e-5, 4.5e-5, 3.6e-5, 2.8e-5, 2.1e-5, 1.62e-5, 8.1e-6],
  [6569, 4.95e-5, 4.2e-5, 3.6e-5, 2.8e-5, 2.1e-5, 1.62e-5, 8.1e-6],
  [7120, 4.8e-5, 4.2e-5, 3.6e-5, 2.8e-5, 2.1e-5, 1.62e-5, 8.1e-6],
  [7718, 4.6e-5, 3.6e-5, 2.8e-5, 2.1e-5, 1.62e-5, 8.1e-6],
  [8365, 4.45e-5, 3.6e-5, 2.8e-5, 2.1e-5, 1.62e-5, 8.1e-6],
  [9067, 4.3e-5, 3.6e-5, 2.8e-5, 2.1e-5, 1.62e-5, 8.1e-6],
  [9828, 4.15e-5, 3.6e-5, 2.8e-5, 2.1e-5, 1.62e-5, 8.1e-6],
  [10653, 4e-5, 3.4e-5, 2.8e-5, 2.1e-5, 1.62e-5, 8.1e-6],
  [11547, 3.8e-5, 3.2e-5, 2.8e-5, 2.1e-5, 1.62e-5, 8.1e-6],
  [12516, 3.6e-5, 2.8e-5, 2.1e-5, 1.62e-5, 8.1e-6], [13567, 3.45e-5, 2.8e-5, 2.1e-5, 1.62e-5, 8.1e-6],
  [14705, 3.3e-5, 2.8e-5, 2.1e-5, 1.62e-5, 8.1e-6], [15940, 3.15e-5, 2.6e-5, 2.1e-5, 1.62e-5, 8.1e-6],
  [17278, 3e-5, 2.43e-5, 1.62e-5, 8.1e-6], [18728, 2.85e-5, 2.43e-5, 1.62e-5, 8.1e-6],
  [20300, 2.6e-5, 2.1e-5, 1.62e-5, 8.1e-6], [22003, 2.43e-5, 1.62e-5, 8.1e-6], [23850, 2.43e-5, 1.62e-5, 8.1e-6],
  [25851, 1.62e-5, 8.1e-6], [28021, 8.1e-6], [30373, 8.1e-6], [32922, 8.1e-6],
];

// ---- ticks ----
const T_MAJOR = [1, 10, 100, 1000];
const T_MINOR = [0.5, 0.6, 0.7, 0.8, 0.9, 2, 3, 4, 5, 6, 7, 8, 9, 20, 30, 40, 50, 60, 70, 80, 90,
  200, 300, 400, 500, 600, 700, 800, 900];
const A_MAJOR = [1, 100, 10000];
const A_MINOR = [2, 3, 4, 5, 6, 7, 8, 9, 10, 200, 300, 400, 500, 600, 700, 800, 900, 1000,
  20000, 30000, 40000, 50000, 60000, 70000, 80000, 90000];
const P_MAJOR = [1e-6, 1e-4, 1e-2, 1, 100];
const P_MINOR = [2e-6, 3e-6, 4e-6, 5e-6, 6e-6, 7e-6, 8e-6, 9e-6, 1e-5,
  2e-4, 3e-4, 4e-4, 5e-4, 6e-4, 7e-4, 8e-4, 9e-4, 1e-3,
  0.02, 0.03, 0.04, 0.05, 0.06, 0.07, 0.08, 0.09, 0.1,
  2, 3, 4, 5, 6, 7, 8, 9, 10,
  200, 300, 400, 500, 600, 700, 800, 900, 1000];

const SERIF = "'Liberation Serif', 'Times New Roman', Times, serif";
const H = 342;

const toPoints = (...sets: number[][][]): Pt[] =>
  sets.flat().flatMap(([x, ...ys]) => ys.map((y) => ({ x, y })));
const atLevel = (xs: number[], y: number): Pt[] => xs.map((x) => ({ x, y }));
const sorted = (a: number[], b: number[]) => [...a, ...b].sort((p, q) => p - q);
const power = (v: number) => String(Math.round(Math.log10(v)));

function XTick({ x, y, payload, majors, span }: any) {
  const major = majors.includes(payload.value);
  const len = major ? 8 : 4;
  return (
    <g>
      <line x1={x} x2={x} y1={y} y2={y - len} stroke="#000" strokeWidth={1.3} />
      <line x1={x} x2={x} y1={y - span} y2={y - span + len} stroke="#000" strokeWidth={1.3} />
      {major && (
        <text x={x} y={y + 30} textAnchor="middle" fontFamily={SERIF} fontSize={18} fill="#000">
          10<tspan dy={-10} fontSize={13}>{power(payload.value)}</tspan>
        </text>
      )}
    </g>
  );
}

function YTick({ x, y, payload, majors, span }: any) {
  const major = majors.includes(payload.value);
  const len = major ? 8 : 4;
  return (
    <g>
      <line x1={x} x2={x + len} y1={y} y2={y} stroke="#000" strokeWidth={1.3} />
      <line x1={x + span} x2={x + span - len} y1={y} y2={y} stroke="#000" strokeWidth={1.3} />
      {major && (
        <text x={x - 9} y={y + 10} textAnchor="end" fontFamily={SERIF} fontSize={18} fill="#000">
          10<tspan dy={-10} fontSize={13}>{power(payload.value)}</tspan>
        </text>
      )}
    </g>
  );
}

const square = (p: any) => (
  <rect x={p.cx - 2.6} y={p.cy - 2.6} width={5.2} height={5.2} fill="none" stroke="#ff0000" strokeWidth={1.35} />
);
const ring = (p: any) => (
  <circle cx={p.cx} cy={p.cy} r={2.8} fill="none" stroke="#000" strokeWidth={1.35} />
);

type PanelProps = {
  width: number;
  margin: { top: number; right: number; bottom: number; left: number };
  xDomain: [number, number];
  yDomain: [number, number];
  xMajor: number[];
  xMinor: number[];
  red: Pt[];
  black: Pt[];
};

// axes take 1px each (a zero-sized axis is not drawn), so the margins are 1px short of the plot edges
function Panel({ width, margin, xDomain, yDomain, xMajor, xMinor, red, black }: PanelProps) {
  const plotW = width - margin.left - margin.right - 1;
  const plotH = H - margin.top - margin.bottom - 1;
  return (
    <ScatterChart width={width} height={H} margin={margin}>
      <XAxis
        type="number"
        dataKey="x"
        scale="log"
        domain={xDomain}
        allowDataOverflow
        ticks={sorted(xMajor, xMinor)}
        interval={0}
        height={1}
        axisLine={false}
        tickLine={false}
        tickSize={0}
        tickMargin={0}
        tick={(p: any) => <XTick {...p} majors={xMajor} span={plotH} />}
      />
      <YAxis
        type="number"
        dataKey="y"
        scale="log"
        domain={yDomain}
        allowDataOverflow
        ticks={sorted(P_MAJOR, P_MINOR)}
        interval={0}
        width={1}
        axisLine={false}
        tickLine={false}
        tickSize={0}
        tickMargin={0}
        tick={(p: any) => <YTick {...p} majors={P_MAJOR} span={plotW} />}
      />
      <ReferenceArea
        x1={xDomain[0]}
        x2={xDomain[1]}
        y1={yDomain[0]}
        y2={yDomain[1]}
        fill="none"
        stroke="#000"
        strokeWidth={2}
        ifOverflow="visible"
      />
      <Scatter data={red} shape={square} isAnimationActive={false} />
      <Scatter data={black} shape={ring} isAnimationActive={false} />
    </ScatterChart>
  );
}

export default function App() {
  const redT = [...toPoints(DISORDER_T, DISORDER_T_DENSE), ...atLevel(FLOOR_T, DISORDER_T_FLOOR)];
  const blackT = [...toPoints(NO_DISORDER_T, NO_DISORDER_T_DENSE), ...atLevel(FLOOR_T, NO_DISORDER_T_FLOOR)];

  return (
    <div style={{ position: "fixed", left: 0, top: 0, width: 904, height: H, overflow: "hidden", background: "#fff" }}>
      <div style={{ position: "absolute", left: 0, top: 0 }}>
        <Panel
          width={482}
          margin={{ top: 20.6, right: 33.4, bottom: 63, left: 76.5 }}
          xDomain={[0.4, 1000]}
          yDomain={[1e-6, 3000]}
          xMajor={T_MAJOR}
          xMinor={T_MINOR}
          red={redT}
          black={blackT}
        />
      </div>
      <div style={{ position: "absolute", left: 452, top: 0 }}>
        <Panel
          width={470}
          margin={{ top: 21, right: 8.95, bottom: 62.7, left: 89.55 }}
          xDomain={[0.1, 100000]}
          yDomain={[1e-6, 4500]}
          xMajor={A_MAJOR}
          xMinor={A_MINOR}
          red={toPoints(DISORDER_A, DISORDER_A_DENSE)}
          black={toPoints(NO_DISORDER_A, NO_DISORDER_A_DENSE)}
        />
      </div>
      <svg width={904} height={H} style={{ position: "absolute", left: 0, top: 0, pointerEvents: "none" }}>
        <g fontFamily={SERIF} fill="#000">
          <text x={9} y={28} fontSize={24} fontWeight="bold">(a)</text>
          <text x={479} y={28} fontSize={24} fontWeight="bold">(b)</text>
          <text x={285} y={88} fontSize={18}>Disorder</text>
          <text x={217} y={208} fontSize={18}>No disorder</text>
          <text x={737} y={115} fontSize={18}>Disorder</text>
          <text x={624} y={213} fontSize={18}>No disorder</text>
          <text x={263} y={338} fontSize={20} fontStyle="italic" textAnchor="middle">T</text>
          <text x={728} y={338} fontSize={20} fontStyle="italic" textAnchor="middle">A</text>
          <text transform="translate(28,150) rotate(-90)" fontSize={20} textAnchor="middle">
            <tspan fontStyle="italic">p</tspan> (<tspan fontStyle="italic">T</tspan>)
          </text>
          <text transform="translate(492,150) rotate(-90)" fontSize={20} textAnchor="middle">
            <tspan fontStyle="italic">p</tspan> (<tspan fontStyle="italic">A</tspan>)
          </text>
        </g>
      </svg>
    </div>
  );
}
